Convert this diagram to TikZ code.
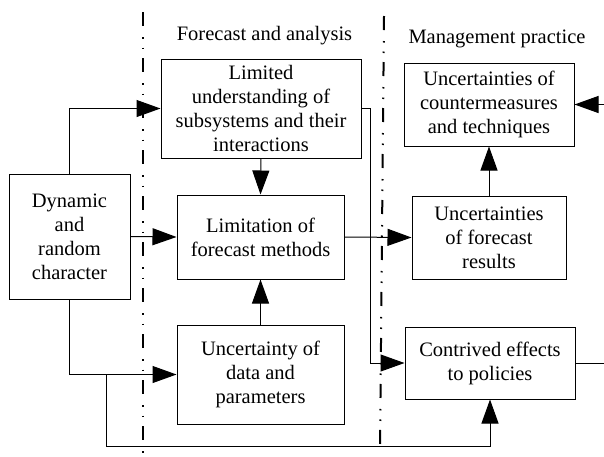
\documentclass[tikz,border=0pt]{standalone}
\usepackage{fontspec}
\setmainfont{Liberation Serif}
\usetikzlibrary{arrows.meta}
\begin{document}
\begin{tikzpicture}[x=1pt,y=-1pt,
  box/.style={draw,line width=1pt,inner sep=0pt,align=center,font=\fontsize{20.5}{24}\selectfont},
  lbl/.style={inner sep=0pt,anchor=base,font=\fontsize{20.5}{24}\selectfont},
  conn/.style={line width=1pt},
  arr/.style={conn,-{Triangle[length=24pt,width=17pt]}},
  divider/.style={line width=2pt,dash pattern=on 14pt off 11pt on 1.5pt off 9pt on 1.5pt off 9pt}]
\useasboundingbox (0,0) rectangle (604,456);
% dividers
\coordinate (d1a) at (142.5,12);
\coordinate (d1b) at (142.5,456);
\coordinate (d2a) at (384,16);
\coordinate (d2b) at (380,451);
\draw[divider] (d1a) -- (d1b);
\draw[divider] (d2a) -- (d2b);
% headers
\node[lbl] (h1) at (264.5,40) {Forecast and analysis};
\node[lbl] (h2) at (497,43) {Management practice};
% boxes
\node[box,minimum width=200pt,minimum height=99pt] (lim) at (261,108.5) {Limited\\understanding of\\subsystems and their\\interactions};
\node[box,minimum width=121pt,minimum height=125pt] (dyn) at (69.5,236.5) {Dynamic\\and\\random\\character};
\node[box,minimum width=167pt,minimum height=84pt] (lfm) at (260.5,237) {Limitation of\\forecast methods};
\node[box,minimum width=167pt,minimum height=99pt] (ud) at (260.5,374.5) {Uncertainty of\\data and\\parameters};
\node[box,minimum width=170pt,minimum height=83pt] (ucm) at (489,104.5) {Uncertainties of\\countermeasures\\and techniques};
\node[box,minimum width=154pt,minimum height=83pt] (ufr) at (489,237.5) {Uncertainties\\of forecast\\results};
\node[box,minimum width=170pt,minimum height=72pt] (ce) at (490,363) {Contrived effects\\to policies};
% connectors
\draw[arr] (dyn.north) |- (lim.west);
\draw[arr] (dyn.east) -- (lfm.west);
\draw[arr] (dyn.south) |- (ud.west);
\coordinate (j1) at (106,374.5);
\coordinate (j2) at (106,446);
\draw[arr] (j1) -- (j2) -| (ce.south);
\draw[arr] (lim.south) -- (lfm.north);
\draw[arr] (ud.north) -- (lfm.south);
\draw[arr] (lfm.east) -- (ufr.west);
\coordinate (k1) at (370,108.5);
\draw[arr] (lim.east) -- (k1) |- (ce.west);
\draw[arr] (ufr.north) -- (ucm.south);
\coordinate (rin) at (604,104.5);
\draw[arr] (rin) -- (ucm.east);
\coordinate (rout) at (604,363);
\draw[conn] (ce.east) -- (rout);
\end{tikzpicture}
\end{document}
